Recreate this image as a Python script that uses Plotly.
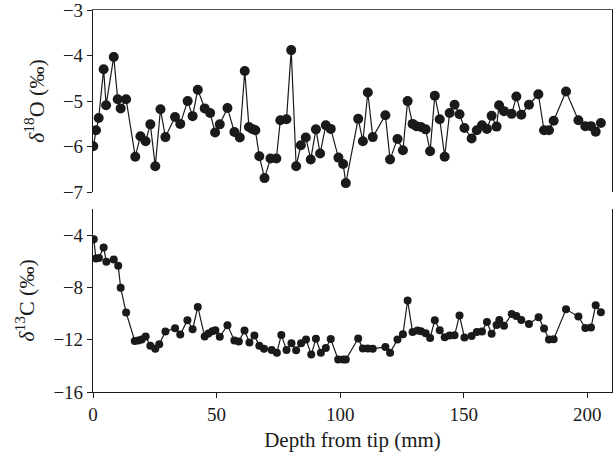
import plotly.graph_objects as go
from plotly.subplots import make_subplots

# delta 18O values (top panel)
depth_o = [0.1, 1.2, 2.3, 4.3, 5.3, 8.4, 10.0, 11.2, 13.4, 17.1, 19.2, 21.3, 23.2, 25.2, 27.3, 29.3,
           33.2, 35.3, 38.3, 40.3, 42.4, 45.2, 47.4, 49.4, 51.3, 54.4, 57.2, 59.4, 61.4, 63.1, 64.4,
           65.7, 67.3, 69.4, 71.8, 74.2, 75.8, 78.3, 80.2, 82.2, 84.1, 86.1, 88.1, 90.2, 91.9, 94.2,
           96.2, 99.3, 101.2, 102.3, 107.3, 109.2, 111.2, 113.2, 118.3, 120.2, 123.2, 125.4, 127.3,
           129.3, 130.8, 132.7, 134.6, 136.4, 138.3, 140.3, 142.3, 144.3, 146.3, 148.3, 150.3, 153.2,
           155.3, 157.4, 159.4, 161.3, 163.3, 164.3, 166.3, 169.4, 171.3, 173.3, 176.4, 180.2, 182.5,
           184.5, 186.4, 191.4, 196.4, 199.2, 201.5, 203.4, 205.5]
d18o = [-5.99, -5.64, -5.37, -4.30, -5.09, -4.03, -4.96, -5.16, -4.96, -6.22, -5.77, -5.88, -5.51,
        -6.43, -5.18, -5.79, -5.35, -5.50, -5.00, -5.33, -4.75, -5.16, -5.26, -5.69, -5.51, -5.15,
        -5.68, -5.80, -4.34, -5.57, -5.61, -5.64, -6.21, -6.69, -6.26, -6.26, -5.42, -5.40, -3.88,
        -6.43, -5.97, -5.80, -6.28, -5.62, -6.15, -5.53, -5.61, -6.24, -6.38, -6.80, -5.39, -5.88,
        -4.81, -5.79, -5.31, -6.28, -5.83, -6.08, -5.00, -5.50, -5.55, -5.57, -5.62, -6.10, -4.88,
        -5.40, -6.22, -5.26, -5.08, -5.29, -5.59, -5.82, -5.64, -5.53, -5.61, -5.32, -5.56, -5.09,
        -5.22, -5.28, -4.90, -5.30, -5.08, -4.85, -5.64, -5.64, -5.43, -4.79, -5.42, -5.55, -5.55,
        -5.67, -5.48]

# delta 13C values (bottom panel)
depth_c = [0.3, 1.2, 2.4, 4.3, 5.4, 8.4, 10.2, 11.2, 13.4, 16.9, 18.3, 19.7, 21.3, 23.2, 25.2, 26.8,
           29.3, 33.2, 35.3, 38.2, 40.3, 42.4, 45.2, 46.7, 48.3, 49.5, 51.3, 54.4, 57.2, 59.0, 61.3,
           63.3, 65.3, 67.3, 69.2, 72.3, 74.4, 76.2, 78.3, 80.3, 82.2, 84.2, 86.2, 88.3, 90.2, 92.2,
           94.2, 96.2, 99.2, 101.2, 102.3, 107.3, 109.2, 111.2, 113.2, 118.3, 120.2, 123.2, 125.4,
           127.3, 129.3, 131.3, 132.7, 134.6, 136.4, 138.3, 140.3, 142.3, 144.3, 146.3, 148.3, 150.3,
           153.2, 155.3, 157.4, 159.4, 161.3, 163.3, 164.4, 166.3, 169.4, 171.3, 173.3, 176.4, 180.3,
           182.5, 184.5, 186.4, 191.4, 196.4, 199.2, 201.5, 203.4, 205.5]
d13c = [-4.31, -5.79, -5.74, -4.94, -6.04, -5.86, -6.35, -8.03, -9.92, -12.09, -12.06, -11.99, -11.76,
        -12.47, -12.70, -12.35, -11.38, -11.12, -11.61, -10.51, -11.20, -9.49, -11.76, -11.53, -11.35,
        -11.27, -11.78, -10.89, -12.06, -12.14, -11.30, -12.22, -11.68, -12.47, -12.70, -12.78, -12.99,
        -11.63, -12.78, -12.27, -12.81, -12.27, -11.99, -13.14, -11.93, -12.99, -12.63, -11.94, -13.52,
        -13.52, -13.52, -11.91, -12.68, -12.68, -12.70, -12.55, -12.99, -11.99, -11.58, -9.00, -11.40,
        -11.30, -11.35, -11.50, -11.86, -10.51, -11.27, -11.81, -11.68, -11.66, -10.15, -11.83, -11.71,
        -11.40, -11.38, -10.64, -11.55, -10.87, -10.49, -10.94, -10.03, -10.18, -10.49, -10.79, -10.28,
        -11.15, -11.99, -11.96, -9.67, -10.23, -11.10, -11.07, -9.36, -9.90]

o_ticks = [-7, -6, -5, -4, -3]
c_ticks = [-16, -12, -8, -4]
x_ticks = [0, 50, 100, 150, 200]

font = "Liberation Serif, Times New Roman, serif"
ink = "#1a1a1a"

fig = make_subplots(rows=2, cols=1, vertical_spacing=0.045)

fig.add_trace(go.Scatter(x=depth_o, y=d18o, mode="lines+markers",
                         line=dict(color=ink, width=1.2),
                         marker=dict(color=ink, size=10)), row=1, col=1)
fig.add_trace(go.Scatter(x=depth_c, y=d13c, mode="lines+markers",
                         line=dict(color=ink, width=1.2),
                         marker=dict(color=ink, size=8)), row=2, col=1)

fig.update_layout(
    width=616, height=463,
    margin=dict(l=93, r=4, t=10, b=71),
    plot_bgcolor="white", paper_bgcolor="white",
    showlegend=False,
    font=dict(family=font, size=19, color=ink),
)

fig.update_layout(
    yaxis=dict(domain=[0.523, 1.0]),
    yaxis2=dict(domain=[0.0, 0.479]),
)

# top panel x axis: only the top frame line
fig.update_xaxes(range=[0, 210], side="top", showline=True, linecolor="#555", linewidth=1.2,
                 showticklabels=False, ticks="", showgrid=False, zeroline=False,
                 automargin=False, row=1, col=1)
# bottom panel x axis
fig.update_xaxes(range=[0, 210], showline=True, linecolor=ink, linewidth=1.2,
                 tickvals=x_ticks, ticks="outside", ticklen=5, tickcolor=ink,
                 showgrid=False, zeroline=False, automargin=False,
                 title=dict(text="Depth from tip (mm)", font=dict(size=21), standoff=8),
                 row=2, col=1)

fig.update_yaxes(range=[-7, -3], tickvals=o_ticks, ticktext=["\u2212%d" % abs(v) for v in o_ticks],
                 showline=True, mirror=True, linecolor=ink, linewidth=1.2,
                 ticks="outside", ticklen=5, tickcolor=ink, showgrid=False, zeroline=False,
                 automargin=False, ticklabeloverflow="allow",
                 title=dict(text="<i>δ</i><sup>18</sup>O (‰)", font=dict(size=22), standoff=12),
                 row=1, col=1)
fig.update_yaxes(range=[-16, -2], tickvals=c_ticks, ticktext=["\u2212%d" % abs(v) for v in c_ticks],
                 showline=True, mirror=True, linecolor=ink, linewidth=1.2,
                 ticks="outside", ticklen=5, tickcolor=ink, showgrid=False, zeroline=False,
                 automargin=False, ticklabeloverflow="allow",
                 title=dict(text="<i>δ</i><sup>13</sup>C (‰)", font=dict(size=22), standoff=12),
                 row=2, col=1)

# drop the default 8px body margin so the figure sits at the window corner
fig.write_html("out.html", config={"displayModeBar": False},
               post_script="document.body.style.margin='0';")
